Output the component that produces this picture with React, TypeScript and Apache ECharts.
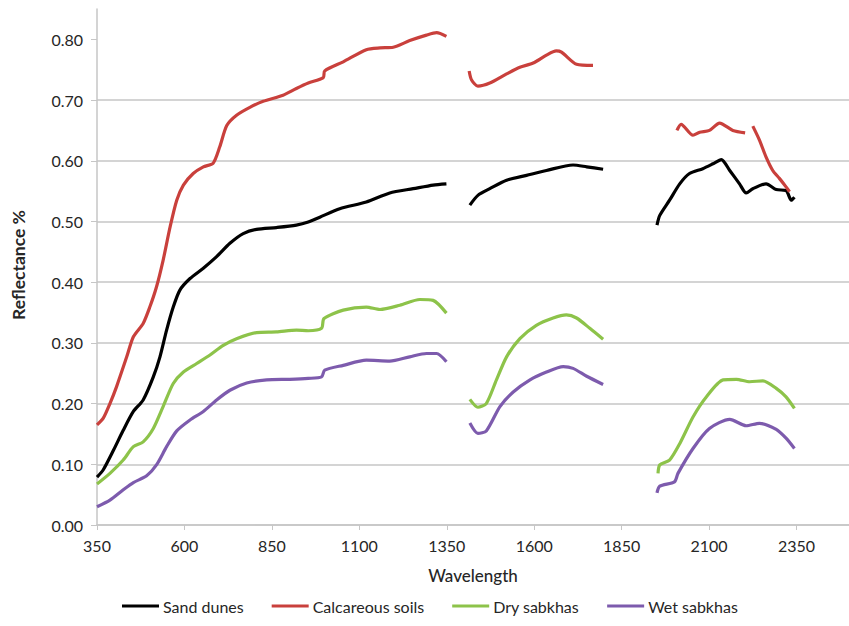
import React, { useEffect, useRef } from "react";
import * as echarts from "echarts";

const seriesNames = ["Sand dunes", "Calcareous soils", "Dry sabkhas", "Wet sabkhas"];
const seriesColors = ["#000000", "#C9403C", "#8DC34A", "#7D5BAD"];

const yTicks = [0, 0.1, 0.2, 0.3, 0.4, 0.5, 0.6, 0.7, 0.8];
const xTicks = [350, 600, 850, 1100, 1350, 1600, 1850, 2100, 2350];

// Sand dunes
const sandVnir = [[350,0.079],[368,0.091],[397,0.123],[425,0.156],[454,0.187],[482,0.206],[511,0.244],[530,0.277],[549,0.321],[568,0.359],[587,0.387],[616,0.406],[654,0.423],[692,0.442],[730,0.464],[768,0.48],[806,0.487],[863,0.49],[920,0.494],[954,0.499],[987,0.507],[1044,0.521],[1120,0.532],[1187,0.547],[1254,0.554],[1311,0.56],[1349,0.562]];
const sandSwir1 = [[1416,0.527],[1439,0.543],[1473,0.554],[1521,0.568],[1578,0.576],[1635,0.584],[1711,0.593],[1750,0.59],[1797,0.586]];
const sandSwir2 = [[1951,0.494],[1959,0.51],[1987,0.535],[2016,0.562],[2044,0.579],[2082,0.587],[2111,0.595],[2135,0.602],[2159,0.584],[2187,0.562],[2206,0.547],[2225,0.554],[2263,0.562],[2292,0.5525],[2320,0.551],[2335,0.535],[2344,0.54]];

// Calcareous soils
const calcVnir = [[350,0.165],[368,0.176],[387,0.2],[406,0.228],[435,0.277],[454,0.31],[482,0.332],[501,0.359],[520,0.392],[539,0.436],[559,0.491],[578,0.535],[597,0.56],[625,0.579],[654,0.59],[682,0.596],[701,0.623],[721,0.658],[749,0.675],[787,0.688],[825,0.698],[882,0.708],[920,0.719],[954,0.728],[997,0.737],[1001,0.748],[1054,0.763],[1120,0.783],[1159,0.786],[1197,0.787],[1244,0.798],[1292,0.807],[1321,0.811],[1349,0.805]];
const calcSwir1 = [[1414,0.748],[1421,0.733],[1439,0.723],[1473,0.728],[1521,0.743],[1559,0.754],[1597,0.761],[1635,0.774],[1663,0.781],[1678,0.779],[1721,0.759],[1768,0.757]];
const calcSwir2a = [[2008,0.65],[2020,0.66],[2054,0.642],[2073,0.647],[2101,0.65],[2130,0.662],[2168,0.65],[2203,0.646]];
const calcSwir2b = [[2225,0.657],[2244,0.634],[2263,0.606],[2282,0.584],[2301,0.571],[2320,0.557],[2330,0.549]];

// Dry sabkhas
const dryVnir = [[350,0.0675],[387,0.085],[425,0.107],[454,0.129],[482,0.137],[511,0.159],[539,0.195],[568,0.233],[597,0.252],[635,0.266],[673,0.28],[711,0.296],[749,0.307],[806,0.317],[863,0.318],[920,0.321],[954,0.32],[992,0.324],[999,0.34],[1054,0.354],[1120,0.359],[1159,0.355],[1216,0.362],[1273,0.3715],[1311,0.37],[1349,0.349]];
const drySwir1 = [[1416,0.207],[1439,0.194],[1463,0.2],[1492,0.239],[1521,0.277],[1559,0.307],[1606,0.329],[1654,0.341],[1692,0.346],[1721,0.341],[1759,0.324],[1797,0.306]];
const drySwir2 = [[1954,0.085],[1959,0.099],[1987,0.107],[2016,0.134],[2054,0.178],[2092,0.211],[2140,0.239],[2178,0.24],[2216,0.236],[2254,0.2375],[2292,0.225],[2320,0.211],[2344,0.192]];

// Wet sabkhas
const wetVnir = [[350,0.03],[387,0.041],[425,0.058],[454,0.07],[492,0.081],[520,0.099],[549,0.129],[578,0.155],[616,0.173],[654,0.187],[692,0.206],[730,0.222],[778,0.234],[835,0.239],[901,0.24],[954,0.2415],[992,0.244],[1001,0.255],[1054,0.263],[1120,0.2715],[1187,0.27],[1244,0.277],[1292,0.2825],[1321,0.2825],[1349,0.269]];
const wetSwir1 = [[1416,0.168],[1439,0.151],[1463,0.155],[1502,0.195],[1540,0.219],[1588,0.239],[1635,0.252],[1683,0.261],[1711,0.258],[1750,0.245],[1797,0.2315]];
const wetSwir2 = [[1951,0.053],[1959,0.064],[2001,0.071],[2011,0.085],[2054,0.126],[2101,0.159],[2159,0.174],[2206,0.1635],[2244,0.1675],[2292,0.1575],[2320,0.143],[2344,0.126]];

const joinSegments = (...segs: number[][][]) => {
  const out: any[] = [];
  segs.forEach((s, i) => {
    if (i > 0) out.push([(out[out.length - 1][0] + s[0][0]) / 2, "-"]);
    s.forEach((p) => out.push(p));
  });
  return out;
};

const seriesData = [
  joinSegments(sandVnir, sandSwir1, sandSwir2),
  joinSegments(calcVnir, calcSwir1, calcSwir2a, calcSwir2b),
  joinSegments(dryVnir, drySwir1, drySwir2),
  joinSegments(wetVnir, wetSwir1, wetSwir2),
];

const FONT = "Lato";
const TEXT = "#262626";
const GRID = "#C6C6C6";

export default function App() {
  const ref = useRef<HTMLDivElement>(null);
  useEffect(() => {
    document.body.style.margin = "0";
    const chart = echarts.init(ref.current!, null, { renderer: "svg" });
    chart.setOption({
      animation: false,
      textStyle: { fontFamily: FONT },
      grid: { left: 97, right: 0, top: 9, bottom: 101, containLabel: false },
      legend: {
        bottom: 7,
        left: 117,
        icon: "rect",
        itemWidth: 37,
        itemHeight: 3,
        itemGap: 28,
        textStyle: { fontFamily: FONT, fontSize: 16, color: TEXT, padding: [0, 0, 0, -1] },
        data: seriesNames,
      },
      xAxis: {
        type: "value",
        min: 350,
        max: 2500,
        interval: 250,
        name: "Wavelength",
        nameLocation: "middle",
        nameGap: 42,
        nameTextStyle: { fontFamily: FONT, fontSize: 17, color: TEXT, fontWeight: 500 },
        axisLine: { show: true, lineStyle: { color: GRID, width: 1.5 } },
        axisTick: { show: true, length: 5, lineStyle: { color: GRID }, customValues: xTicks },
        axisLabel: {
          fontFamily: FONT,
          fontSize: 16,
          color: TEXT,
          margin: 12,
          customValues: xTicks,
          formatter: (v: number) => String(v),
        },
        splitLine: { show: false },
      },
      yAxis: {
        type: "value",
        min: 0,
        max: 0.85,
        interval: 0.1,
        name: "Reflectance %",
        nameLocation: "middle",
        nameGap: 70,
        nameTextStyle: { fontFamily: FONT, fontSize: 17.5, color: TEXT, fontWeight: "bold", padding: [0, 0, 0, 4] },
        axisLine: { show: true, lineStyle: { color: GRID, width: 1.5 } },
        axisTick: { show: true, length: 6, lineStyle: { color: GRID }, customValues: yTicks },
        axisLabel: {
          fontFamily: FONT,
          fontSize: 16,
          color: TEXT,
          margin: 14,
          customValues: yTicks,
          formatter: (v: number) => v.toFixed(2),
        },
        splitLine: { show: true, showMaxLine: false, lineStyle: { color: GRID, width: 1.5 } },
      },
      series: seriesNames.map((name, i) => ({
        name,
        type: "line",
        data: seriesData[i],
        showSymbol: false,
        symbol: "none",
        smooth: 0.25,
        connectNulls: false,
        lineStyle: { color: seriesColors[i], width: 3.2 },
        itemStyle: { color: seriesColors[i] },
      })),
    });
    return () => chart.dispose();
  }, []);
  return <div ref={ref} style={{ width: 849, height: 626 }} />;
}
